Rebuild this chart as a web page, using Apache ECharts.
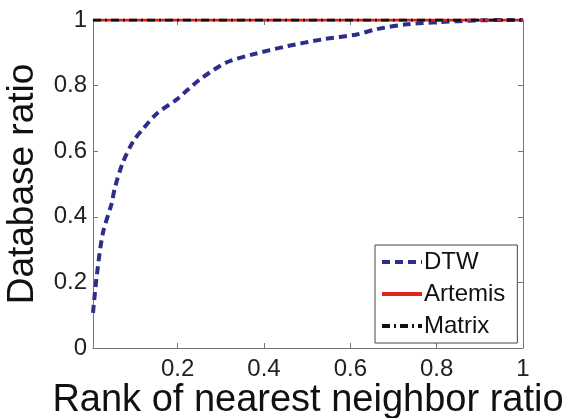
<!DOCTYPE html>
<html>
<head>
<meta charset="utf-8">
<script src="https://cdn.jsdelivr.net/npm/echarts@6/dist/echarts.min.js"></script>
<style>
  html, body { margin: 0; padding: 0; background: #fff; }
  #chart { width: 570px; height: 418px; }
</style>
</head>
<body>
<div id="chart"></div>
<script>
// Rank-of-nearest-neighbor ratio (x) against database ratio (y)
const rankRatio = [0.004, 0.0125, 0.027, 0.047, 0.055, 0.073, 0.097, 0.12, 0.152, 0.198, 0.252, 0.314, 0.374, 0.453, 0.536, 0.615, 0.661, 0.731, 0.8, 0.9, 1];
const dtwRatio = [0.107, 0.218, 0.351, 0.44, 0.49, 0.565, 0.63, 0.668, 0.715, 0.758, 0.819, 0.871, 0.895, 0.92, 0.941, 0.956, 0.972, 0.987, 0.993, 0.999, 1];
const artemisRatio = [1, 1];
const matrixRatio = [1, 1];
const flatRank = [0.004, 1];
const xTicks = [0.2, 0.4, 0.6, 0.8, 1];

const FONT = 'Liberation Sans, Arial, sans-serif';
const AXIS_COLOR = '#777';

const pairs = (xs, ys) => xs.map((x, i) => [x, ys[i]]);

const chart = echarts.init(document.getElementById('chart'), null, { renderer: 'canvas' });

const tickStyle = { show: true, inside: true, length: 5, lineStyle: { color: AXIS_COLOR, width: 1 } };

chart.setOption({
  animation: false,
  backgroundColor: '#fff',
  grid: { left: 93, right: 47, top: 20, bottom: 70, containLabel: false, outerBoundsMode: 'none' },
  xAxis: [
    {
      type: 'value', position: 'bottom', min: 0.004, max: 1,
      name: 'Rank of nearest neighbor ratio', nameLocation: 'middle', nameGap: 34,
      nameMoveOverlap: false,
      nameTextStyle: { fontFamily: FONT, fontSize: 38, color: '#111' },
      axisLine: { show: true, lineStyle: { color: AXIS_COLOR, width: 1 } },
      axisTick: Object.assign({ customValues: xTicks }, tickStyle),
      axisLabel: { customValues: xTicks, fontFamily: FONT, fontSize: 24, color: '#222', margin: 9 },
      splitLine: { show: false }
    },
    {
      type: 'value', position: 'top', min: 0.004, max: 1,
      axisLine: { show: true, onZero: false, lineStyle: { color: AXIS_COLOR, width: 1 } },
      axisTick: Object.assign({ customValues: xTicks }, tickStyle),
      axisLabel: { show: false },
      splitLine: { show: false }
    }
  ],
  yAxis: [
    {
      type: 'value', position: 'left', min: 0, max: 1, interval: 0.2,
      name: 'Database ratio', nameLocation: 'middle', nameGap: 52,
      nameMoveOverlap: false,
      nameTextStyle: { fontFamily: FONT, fontSize: 37, color: '#111' },
      axisLine: { show: true, lineStyle: { color: AXIS_COLOR, width: 1 } },
      axisTick: tickStyle,
      axisLabel: { fontFamily: FONT, fontSize: 24, color: '#222', margin: 6 },
      splitLine: { show: false }
    },
    {
      type: 'value', position: 'right', min: 0, max: 1, interval: 0.2,
      axisLine: { show: true, onZero: false, lineStyle: { color: AXIS_COLOR, width: 1 } },
      axisTick: tickStyle,
      axisLabel: { show: false },
      splitLine: { show: false }
    }
  ],
  legend: {
    orient: 'vertical',
    left: 375, top: 245,
    padding: [5, 12, 5, 5],
    itemWidth: 40, itemHeight: 10, itemGap: 8,
    borderColor: '#444', borderWidth: 1, backgroundColor: '#fff',
    itemStyle: { opacity: 0 },
    lineStyle: { width: 4 },
    textStyle: { fontFamily: FONT, fontSize: 24, color: '#111', lineHeight: 24, padding: [0, 0, 0, -3] },
    data: ['DTW', 'Artemis', 'Matrix']
  },
  series: [
    {
      name: 'DTW', type: 'line', data: pairs(rankRatio, dtwRatio),
      smooth: 0.3, showSymbol: false, symbol: 'none',
      lineStyle: { color: '#2d2d8a', width: 4, type: [8, 5] },
      itemStyle: { color: '#2d2d8a' }, z: 3
    },
    {
      name: 'Artemis', type: 'line', data: pairs(flatRank, artemisRatio),
      showSymbol: false, symbol: 'none',
      lineStyle: { color: '#e0231c', width: 3, type: 'solid' },
      itemStyle: { color: '#e0231c' }, z: 4
    },
    {
      name: 'Matrix', type: 'line', data: pairs(flatRank, matrixRatio),
      showSymbol: false, symbol: 'none',
      lineStyle: { color: '#111', width: 3, type: [8, 4, 2, 4] },
      itemStyle: { color: '#111' }, z: 5
    }
  ]
});
</script>
</body>
</html>
